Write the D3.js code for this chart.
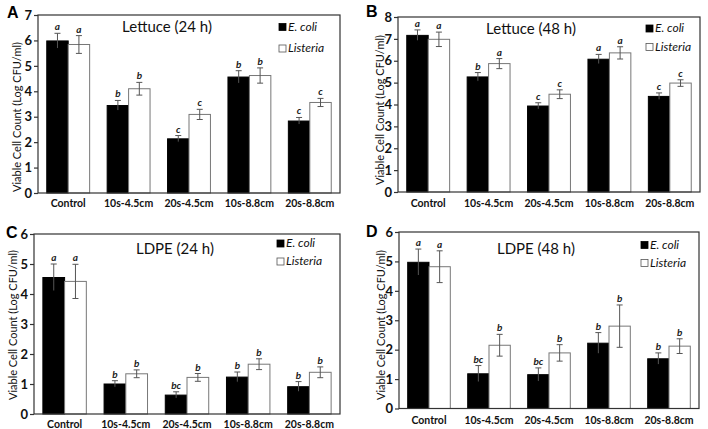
<!DOCTYPE html>
<html>
<head>
<meta charset="utf-8">
<script src="https://cdn.jsdelivr.net/npm/d3@7"></script>
<style>
  body { margin: 0; background: #fff; }
  svg { display: block; }
</style>
</head>
<body>
<div id="chart"></div>
<script>
///////////// data /////////////
const groups = ["Control", "10s-4.5cm", "20s-4.5cm", "10s-8.8cm", "20s-8.8cm"];
const seriesNames = ["E. coli", "Listeria"];

// Lettuce 24 h
const ecoliA = [5.98, 3.44, 2.13, 4.56, 2.83];
const ecoliErrA = [0.3, 0.2, 0.13, 0.25, 0.14];
const listeriaA = [5.84, 4.1, 3.09, 4.62, 3.56];
const listeriaErrA = [0.35, 0.25, 0.2, 0.3, 0.16];
const ecoliLetA = ["a", "b", "c", "b", "c"];
const listeriaLetA = ["a", "b", "c", "b", "c"];

// Lettuce 48 h
const ecoliB = [7.16, 5.26, 3.93, 6.07, 4.37];
const ecoliErrB = [0.25, 0.2, 0.15, 0.22, 0.16];
const listeriaB = [6.98, 5.87, 4.47, 6.36, 4.98];
const listeriaErrB = [0.33, 0.23, 0.2, 0.28, 0.15];
const ecoliLetB = ["a", "b", "c", "a", "c"];
const listeriaLetB = ["a", "a", "c", "a", "c"];

// LDPE 24 h
const ecoliC = [4.55, 1.0, 0.63, 1.23, 0.91];
const ecoliErrC = [0.45, 0.11, 0.11, 0.17, 0.17];
const listeriaC = [4.42, 1.34, 1.22, 1.66, 1.39];
const listeriaErrC = [0.57, 0.13, 0.13, 0.18, 0.18];
const ecoliLetC = ["a", "b", "bc", "b", "b"];
const listeriaLetC = ["a", "b", "b", "b", "b"];

// LDPE 48 h
const ecoliD = [4.97, 1.18, 1.15, 2.22, 1.69];
const ecoliErrD = [0.45, 0.28, 0.23, 0.36, 0.2];
const listeriaD = [4.82, 2.15, 1.89, 2.8, 2.12];
const listeriaErrD = [0.54, 0.37, 0.28, 0.72, 0.25];
const ecoliLetD = ["a", "bc", "bc", "b", "b"];
const listeriaLetD = ["a", "b", "b", "b", "b"];

const yTicksA = [0, 1, 2, 3, 4, 5, 6, 7];
const yTicksB = [0, 1, 2, 3, 4, 5, 6, 7, 8];
const yTicksCD = [0, 1, 2, 3, 4, 5, 6];

const yTitle = "Viable Cell Count (Log CFU/ml)";
const font = "Lato, 'Open Sans', sans-serif";

const svg = d3.select("#chart").append("svg")
    .attr("width", 708)
    .attr("height", 429);

function drawPanel(p) {
    const g = svg.append("g");

    const x = d3.scaleBand()
        .domain(groups)
        .range([p.left, p.right])
        .paddingInner(0.29)
        .paddingOuter(0.145);
    const xs = d3.scaleBand().domain(seriesNames).range([0, x.bandwidth()]);
    const y = d3.scaleLinear().domain([0, p.max]).range([p.bottom, p.top]);

    const rows = [];
    groups.forEach((grp, i) => {
        rows.push({ grp, s: seriesNames[0], v: p.ecoli[i], e: p.ecoliErr[i], l: p.ecoliLet[i] });
        rows.push({ grp, s: seriesNames[1], v: p.listeria[i], e: p.listeriaErr[i], l: p.listeriaLet[i] });
    });

    //bars
    g.selectAll("rect.bar")
        .data(rows)
        .enter()
        .append("rect")
        .attr("class", "bar")
        .attr("x", (d) => x(d.grp) + xs(d.s))
        .attr("y", (d) => y(d.v))
        .attr("width", xs.bandwidth())
        .attr("height", (d) => y(0) - y(d.v))
        .attr("fill", (d) => (d.s === seriesNames[0] ? "#000" : "#fff"))
        .attr("stroke", (d) => (d.s === seriesNames[0] ? "#000" : "#777"))
        .attr("stroke-width", 1);

    //error bars
    const cx = (d) => x(d.grp) + xs(d.s) + xs.bandwidth() / 2;
    const eb = g.selectAll("g.err").data(rows).enter().append("g")
        .attr("stroke", "#555")
        .attr("stroke-width", 1);
    eb.append("line")
        .attr("x1", cx).attr("x2", cx)
        .attr("y1", (d) => y(d.v + d.e))
        .attr("y2", (d) => y(d.v - d.e));
    eb.append("line")
        .attr("x1", (d) => cx(d) - 3).attr("x2", (d) => cx(d) + 3)
        .attr("y1", (d) => y(d.v + d.e)).attr("y2", (d) => y(d.v + d.e));
    eb.append("line")
        .attr("x1", (d) => cx(d) - 3).attr("x2", (d) => cx(d) + 3)
        .attr("y1", (d) => y(d.v - d.e)).attr("y2", (d) => y(d.v - d.e))
        .attr("stroke", (d) => (d.s === seriesNames[0] ? "#000" : "#555"));

    //significance letters
    g.selectAll("text.sig")
        .data(rows)
        .enter()
        .append("text")
        .attr("x", cx)
        .attr("y", (d) => y(d.v + d.e) - 3)
        .attr("text-anchor", "middle")
        .style("font-family", font)
        .style("font-size", "10px")
        .style("font-weight", "bold")
        .style("font-style", "italic")
        .attr("fill", "#222")
        .text((d) => d.l);

    //frame
    g.append("rect")
        .attr("x", p.left)
        .attr("y", p.top)
        .attr("width", p.right - p.left)
        .attr("height", p.bottom - p.top)
        .attr("fill", "none")
        .attr("stroke", "#333")
        .attr("stroke-width", 1.2);

    //y axis
    const yAxis = g.append("g")
        .attr("transform", `translate(${p.left},0)`)
        .call(d3.axisLeft(y).tickValues(p.ticks).tickSize(4).tickPadding(2).tickFormat(d3.format("d")));
    yAxis.select(".domain").remove();
    yAxis.selectAll("line").attr("stroke", "#333").attr("stroke-width", 1.2);
    yAxis.selectAll("text")
        .style("font-family", font)
        .style("font-size", "13px")
        .style("font-weight", "bold")
        .attr("fill", "#111");

    //x labels
    g.selectAll("text.xlab")
        .data(groups)
        .enter()
        .append("text")
        .attr("x", (d) => x(d) + x.bandwidth() / 2)
        .attr("y", p.xlabY)
        .attr("text-anchor", "middle")
        .style("font-family", font)
        .style("font-size", "10.5px")
        .style("font-weight", "bold")
        .attr("fill", "#111")
        .text((d) => d);

    //y title
    g.append("text")
        .attr("transform", `translate(${p.ytX},${p.ytY}) rotate(-90)`)
        .attr("text-anchor", "middle")
        .attr("dy", "0.35em")
        .style("font-family", font)
        .style("font-size", "11px")
        .attr("fill", "#111")
        .text(yTitle);

    //title
    g.append("text")
        .attr("x", p.titleX)
        .attr("y", p.titleY)
        .attr("text-anchor", "middle")
        .style("font-family", font)
        .style("font-size", "15px")
        .attr("fill", "#111")
        .text(p.title);

    //legend
    seriesNames.forEach((s, i) => {
        const ly = p.legY + i * p.legGap;
        g.append("rect")
            .attr("x", p.legX)
            .attr("y", ly - 7)
            .attr("width", 7)
            .attr("height", 7)
            .attr("fill", i === 0 ? "#000" : "#fff")
            .attr("stroke", i === 0 ? "#000" : "#555")
            .attr("stroke-width", 0.8);
        g.append("text")
            .attr("x", p.legX + 9)
            .attr("y", ly)
            .style("font-family", font)
            .style("font-size", "12px")
            .style("font-style", "italic")
            .attr("fill", "#111")
            .text(s);
    });

    //panel letter
    g.append("text")
        .attr("x", p.labX)
        .attr("y", p.labY)
        .style("font-family", "'Liberation Sans', Arial, sans-serif")
        .style("font-size", "16px")
        .style("font-weight", "bold")
        .attr("fill", "#000")
        .text(p.label);
}

drawPanel({
    label: "A", labX: 7, labY: 18,
    title: "Lettuce (24 h)", titleX: 167, titleY: 32,
    left: 38, top: 15, right: 340, bottom: 193, max: 7, ticks: yTicksA,
    ecoli: ecoliA, ecoliErr: ecoliErrA, listeria: listeriaA, listeriaErr: listeriaErrA,
    ecoliLet: ecoliLetA, listeriaLet: listeriaLetA,
    xlabY: 207, ytX: 17, ytY: 117,
    legX: 279, legY: 30.5, legGap: 21.5
});

drawPanel({
    label: "B", labX: 366, labY: 17,
    title: "Lettuce (48 h)", titleX: 531, titleY: 34,
    left: 398, top: 17, right: 700, bottom: 192, max: 8, ticks: yTicksB,
    ecoli: ecoliB, ecoliErr: ecoliErrB, listeria: listeriaB, listeriaErr: listeriaErrB,
    ecoliLet: ecoliLetB, listeriaLet: listeriaLetB,
    xlabY: 207, ytX: 380, ytY: 110,
    legX: 646, legY: 32, legGap: 18.5
});

drawPanel({
    label: "C", labX: 6, labY: 238,
    title: "LDPE (24 h)", titleX: 175, titleY: 254,
    left: 34, top: 234, right: 340, bottom: 414, max: 6, ticks: yTicksCD,
    ecoli: ecoliC, ecoliErr: ecoliErrC, listeria: listeriaC, listeriaErr: listeriaErrC,
    ecoliLet: ecoliLetC, listeriaLet: listeriaLetC,
    xlabY: 428, ytX: 13, ytY: 325,
    legX: 277, legY: 247, legGap: 18
});

drawPanel({
    label: "D", labX: 366, labY: 237,
    title: "LDPE (48 h)", titleX: 536, titleY: 254,
    left: 399, top: 232, right: 699, bottom: 408.5, max: 6, ticks: yTicksCD,
    ecoli: ecoliD, ecoliErr: ecoliErrD, listeria: listeriaD, listeriaErr: listeriaErrD,
    ecoliLet: ecoliLetD, listeriaLet: listeriaLetD,
    xlabY: 424, ytX: 381, ytY: 325,
    legX: 641, legY: 248.5, legGap: 18
});
</script>
</body>
</html>
